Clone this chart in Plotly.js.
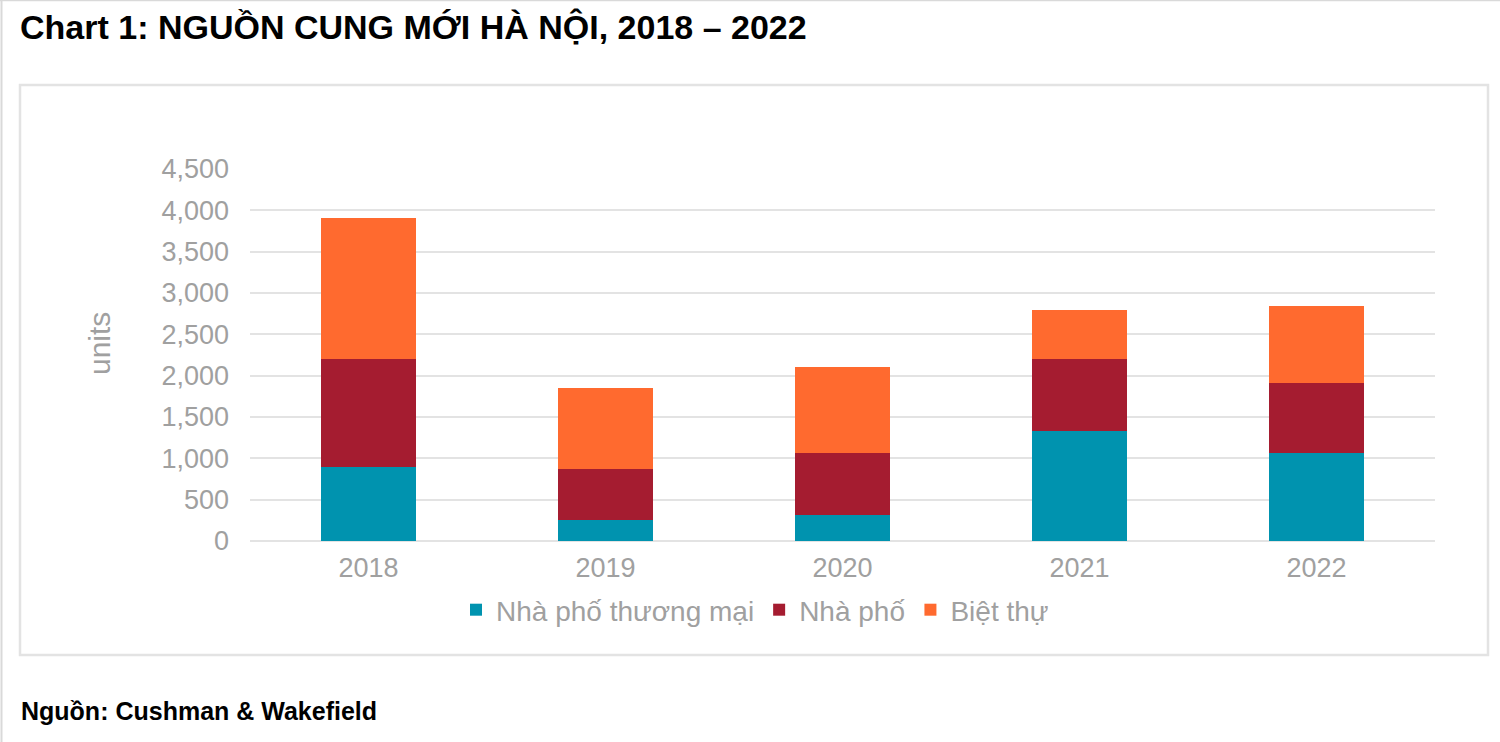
<!DOCTYPE html>
<html>
<head>
<meta charset="utf-8">
<script src="https://cdn.plot.ly/plotly-3.0.1.min.js"></script>
<style>
html,body{margin:0;padding:0;background:#fff;}
#chart{width:1500px;height:742px;}
</style>
</head>
<body>
<div id="chart"></div>
<script>
const years = ['2018', '2019', '2020', '2021', '2022'];
const seriesNames = ['Nhà phố thương mại', 'Nhà phố', 'Biệt thự'];
const nhaPhoThuongMai = [900, 255, 315, 1330, 1065];
const nhaPho = [1300, 620, 750, 870, 850];
const bietThu = [1710, 980, 1040, 600, 925];
const colors = ['#0093AF', '#A51C30', '#FF6A2F'];

const allValues = [nhaPhoThuongMai, nhaPho, bietThu];
const traces = allValues.map((vals, i) => ({
  type: 'bar',
  name: seriesNames[i],
  x: years,
  y: vals,
  marker: {color: colors[i], line: {width: 0}},
  hoverinfo: 'x+y+name'
}));

const W = 1500, H = 742;
const L = 250, R = 65, T = 169, B = 201;
const pw = W - L - R, ph = H - T - B;
const px = v => (v - L) / pw;
const py = v => 1 - (v - T) / ph;
const FONT = 'Liberation Sans, Arial, sans-serif';

const layout = {
  width: W, height: H,
  margin: {l: L, r: R, t: T, b: B},
  barmode: 'stack',
  bargap: 0.6,
  paper_bgcolor: '#fff',
  plot_bgcolor: '#fff',
  font: {family: FONT, color: '#a0a0a0'},
  title: {
    text: '<b>Chart 1: NGUỒN CUNG MỚI HÀ NỘI, 2018 – 2022</b>',
    font: {family: FONT, size: 34, color: '#000'},
    xref: 'container', yref: 'container',
    x: 20 / W, xanchor: 'left',
    y: 1 - 27 / H, yanchor: 'middle'
  },
  xaxis: {
    type: 'category',
    tickfont: {size: 27, color: '#a0a0a0'},
    showgrid: false,
    showline: false,
    ticks: '',
    ticklabelstandoff: 8
  },
  yaxis: {
    range: [0, 4500],
    tickvals: [0, 500, 1000, 1500, 2000, 2500, 3000, 3500, 4000, 4500],
    tickformat: ',d',
    tickfont: {size: 27, color: '#a0a0a0'},
    gridcolor: '#e3e3e3',
    gridwidth: 2,
    zeroline: true,
    zerolinecolor: '#e3e3e3',
    zerolinewidth: 2,
    showline: false,
    ticks: '',
    ticklabelstandoff: 20
  },
  showlegend: true,
  legend: {
    orientation: 'h',
    x: px(755), xanchor: 'center',
    y: py(610), yanchor: 'middle',
    font: {size: 28, color: '#a0a0a0'},
    traceorder: 'normal',
    itemwidth: 30
  },
  annotations: [
    {
      text: 'units', textangle: -90,
      xref: 'paper', yref: 'paper',
      x: px(99), y: py(344), xanchor: 'center', yanchor: 'middle',
      showarrow: false,
      font: {size: 30, color: '#a0a0a0'}
    },
    {
      text: '<b>Nguồn: Cushman &amp; Wakefield</b>',
      xref: 'paper', yref: 'paper',
      x: px(19), y: py(711), xanchor: 'left', yanchor: 'middle',
      showarrow: false,
      font: {size: 25, color: '#000'}
    }
  ],
  shapes: [
    {
      type: 'rect', xref: 'paper', yref: 'paper',
      x0: px(20), x1: px(1488), y0: py(655), y1: py(85),
      line: {color: '#e3e3e3', width: 2.5},
      fillcolor: 'rgba(0,0,0,0)',
      layer: 'below'
    },
    {
      type: 'line', xref: 'paper', yref: 'paper',
      x0: px(0), x1: px(1500), y0: py(0.5), y1: py(0.5),
      line: {color: '#d9d9d9', width: 1.5}
    },
    {
      type: 'line', xref: 'paper', yref: 'paper',
      x0: px(1.5), x1: px(1.5), y0: py(0), y1: py(742),
      line: {color: '#d9d9d9', width: 2}
    }
  ]
};

Plotly.newPlot('chart', traces, layout, {displayModeBar: false, staticPlot: true});
</script>
</body>
</html>
